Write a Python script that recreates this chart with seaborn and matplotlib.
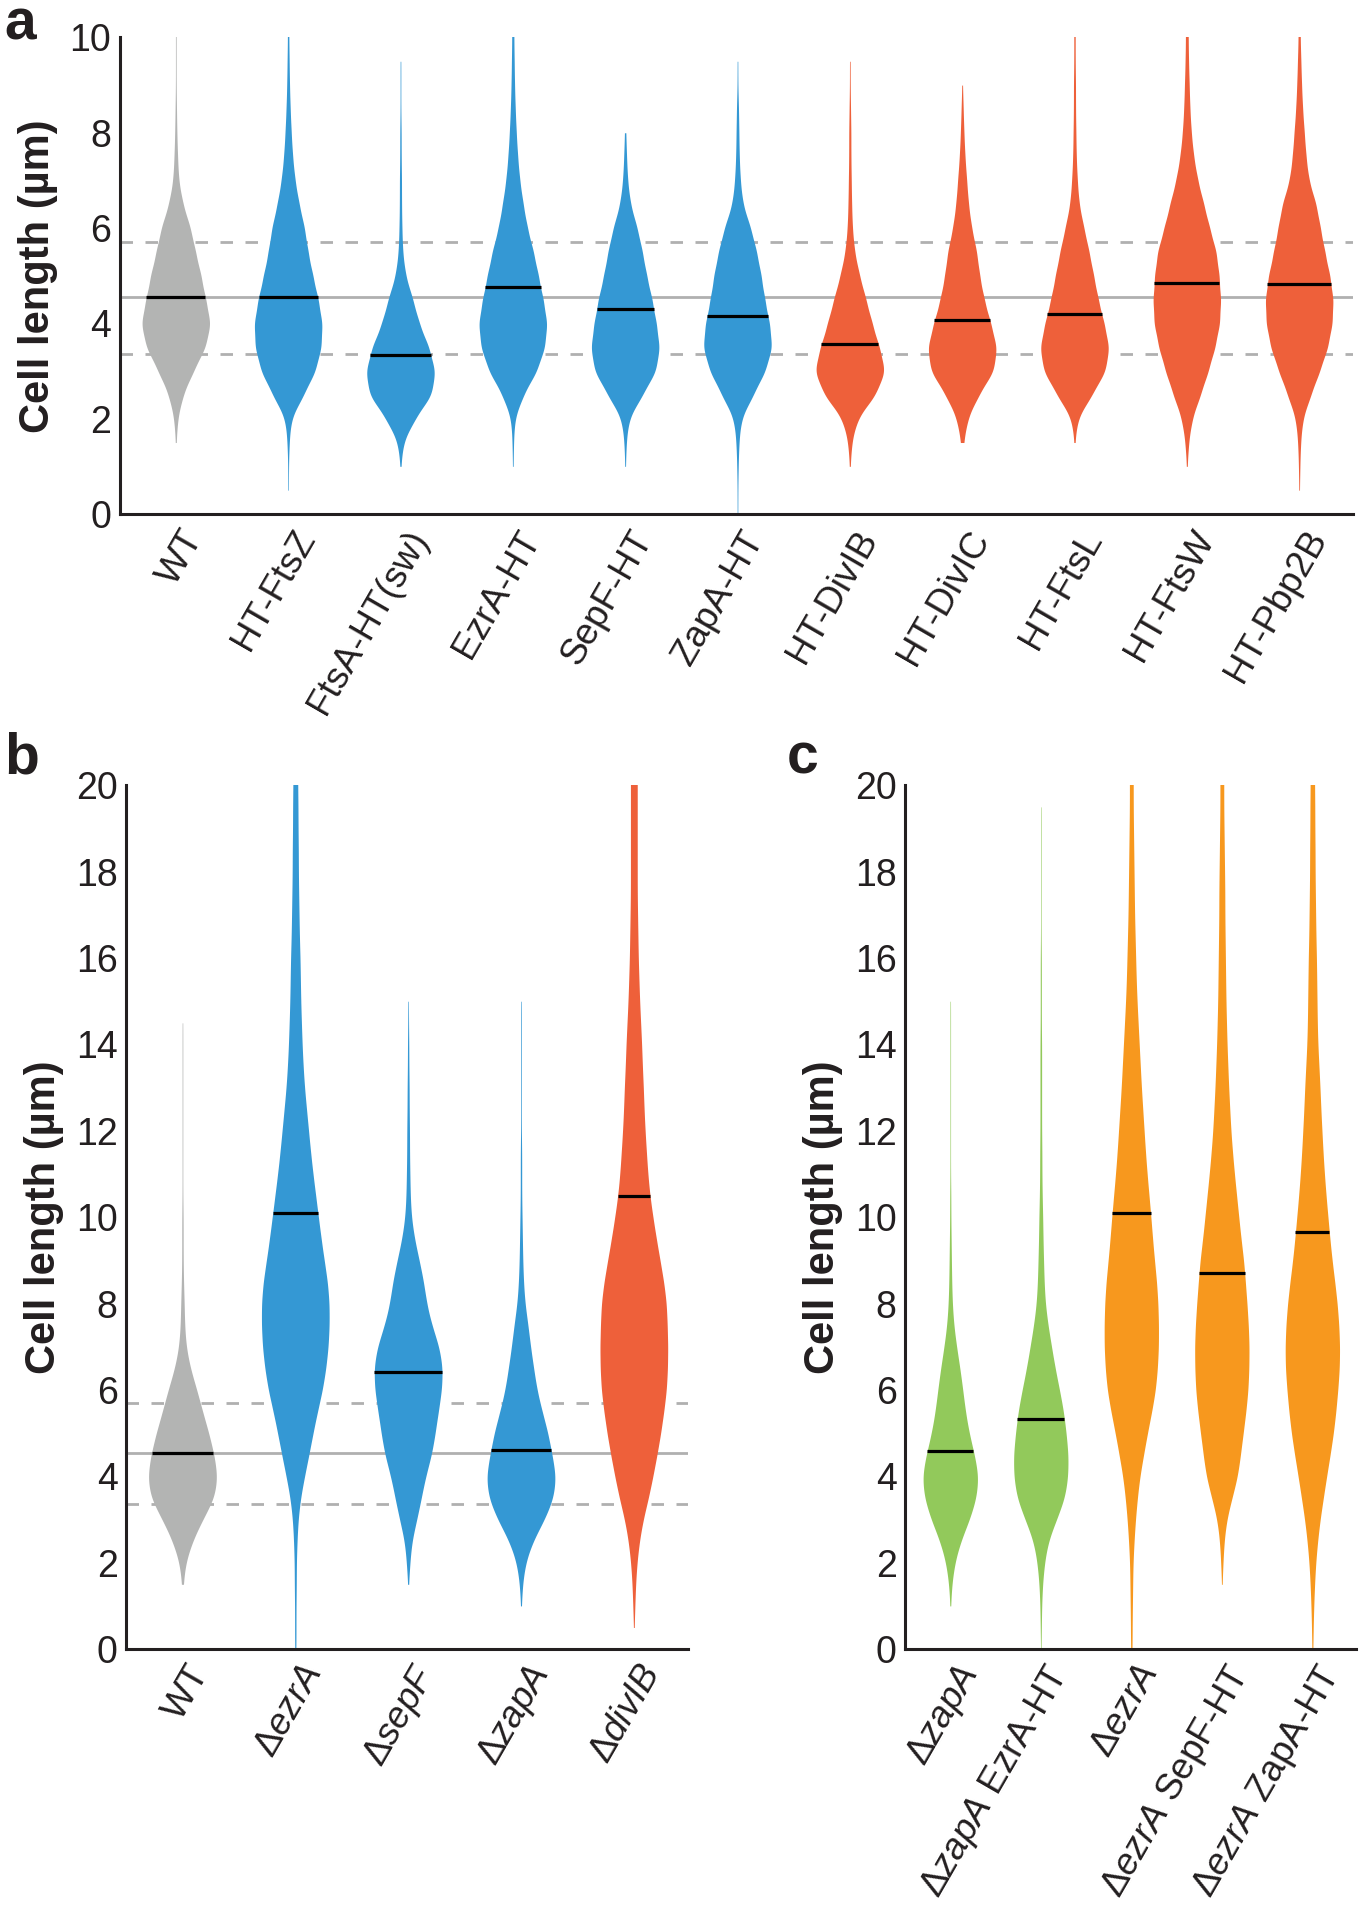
import numpy as np
import pandas as pd
import matplotlib
matplotlib.use("Agg")
import matplotlib.pyplot as plt
import matplotlib.transforms as mtransforms
import seaborn as sns

sns.set_style("white")
plt.rcParams["font.family"] = ["Liberation Sans", "DejaVu Sans"]
plt.rcParams["mathtext.fontset"] = "custom"
plt.rcParams["mathtext.rm"] = "Liberation Sans"
plt.rcParams["mathtext.it"] = "Liberation Sans:italic"

GRAY, BLUE, RED = "#b3b4b3", "#3498d4", "#ee603a"
GREEN, ORANGE = "#92c95b", "#f7981e"
REF = "#b0b0b0"
INK = "#231f20"

# histogram-style reading of each violin: counts per 0.5 µm bin
bins_a = [0, 0.5, 1, 1.5, 2, 2.5, 3, 3.5, 4, 4.5, 5, 5.5, 6, 6.5, 7, 7.5,
          8, 8.5, 9, 9.5, 10, 10.5, 11]
bins_bc = [0, 0.5, 1, 1.5, 2, 2.5, 3, 3.5, 4, 4.5, 5, 5.5, 6, 6.5, 7, 7.5,
           8, 8.5, 9, 9.5, 10, 10.5, 11, 11.5, 12, 12.5, 13, 13.5, 14, 14.5,
           15, 15.5, 16, 16.5, 17, 17.5, 18, 18.5, 19, 19.5, 20, 20.5, 21]

labels_a = ["WT", "HT-FtsZ", "FtsA-HT(sw)", "EzrA-HT", "SepF-HT", "ZapA-HT",
            "HT-DivIB", "HT-DivIC", "HT-FtsL", "HT-FtsW", "HT-Pbp2B"]
colors_a = [GRAY] + [BLUE] * 5 + [RED] * 5
counts_a = [
    [0, 0, 0, 1, 5, 20, 50, 85, 100, 85, 72, 56, 42, 20, 8, 5, 3, 2, 1, 1, 1, 1, 1],
    [0, 1, 1, 3, 8, 45, 80, 97, 100, 88, 72, 58, 48, 32, 20, 13, 9, 6, 4, 3, 2, 2, 2],
    [0, 0, 1, 7, 40, 89, 98, 80, 52, 35, 14, 6, 4, 3, 3, 2, 2, 1, 1, 1, 0, 0, 0],
    [0, 0, 1, 2, 5, 30, 70, 93, 100, 88, 74, 60, 42, 30, 20, 14, 10, 7, 5, 4, 3, 3, 3],
    [0, 0, 1, 3, 10, 50, 90, 100, 90, 78, 62, 50, 35, 15, 7, 4, 2, 0, 0, 0, 0, 0, 0],
    [1, 1, 2, 4, 10, 45, 80, 100, 92, 78, 68, 55, 38, 15, 8, 5, 4, 3, 1, 1, 0, 0, 0],
    [0, 0, 1, 5, 20, 72, 100, 82, 62, 45, 27, 13, 7, 5, 4, 3, 3, 2, 1, 1, 0, 0, 0],
    [0, 0, 0, 4, 15, 47, 92, 100, 82, 63, 50, 42, 27, 18, 13, 8, 5, 3, 1, 0, 0, 0, 0],
    [0, 0, 0, 1, 8, 50, 90, 100, 85, 68, 55, 42, 27, 13, 8, 5, 4, 3, 3, 2, 2, 2, 2],
    [0, 0, 1, 5, 15, 40, 63, 83, 97, 100, 95, 87, 67, 50, 32, 20, 13, 9, 7, 5, 4, 4, 4],
    [0, 1, 2, 4, 10, 34, 60, 84, 97, 100, 90, 75, 62, 50, 28, 20, 15, 10, 7, 5, 3, 3, 3],
]
medians_a = [4.55, 4.55, 3.34, 4.76, 4.31, 4.15, 3.57, 4.07, 4.19, 4.85, 4.82]

labels_b = ["WT", "$\\mathit{ΔezrA}$", "$\\mathit{ΔsepF}$", "$\\mathit{ΔzapA}$",
            "$\\mathit{ΔdivIB}$"]
colors_b = [GRAY, BLUE, BLUE, BLUE, RED]
counts_b = [
    [0, 0, 0, 2, 8, 28, 57, 92, 100, 90, 75, 57, 41, 22, 10, 6, 5, 3, 2, 2, 2,
     1, 1, 1, 1, 1, 1, 1, 1, 1, 0, 0, 0, 0, 0, 0, 0, 0, 0, 0, 0, 0, 0],
    [2, 2, 2, 3, 3, 5, 8, 15, 27, 40, 52, 65, 80, 90, 97, 100, 100, 95, 85, 76,
     68, 60, 52, 45, 39, 33, 27, 23, 20, 18, 16, 15, 14, 12, 11, 10, 9, 9, 8, 8, 7, 7, 7],
    [0, 0, 0, 1, 5, 10, 25, 38, 50, 68, 78, 87, 97, 100, 90, 68, 53, 45, 32, 18,
     9, 6, 5, 4, 4, 3, 3, 2, 2, 1, 1, 0, 0, 0, 0, 0, 0, 0, 0, 0, 0, 0, 0],
    [0, 0, 1, 4, 12, 33, 67, 93, 100, 88, 77, 60, 45, 36, 27, 20, 11, 7, 5, 4,
     3, 2, 2, 2, 1, 1, 1, 1, 1, 1, 1, 0, 0, 0, 0, 0, 0, 0, 0, 0, 0, 0, 0],
    [0, 1, 3, 5, 9, 16, 27, 43, 56, 68, 79, 88, 96, 99, 100, 98, 96, 88, 77, 66,
     56, 47, 41, 37, 33, 30, 28, 25, 23, 20, 17, 15, 13, 12, 11, 10, 10, 10, 10, 10, 10, 10, 10],
]
medians_b = [4.55, 10.1, 6.42, 4.62, 10.49]

labels_c = ["$\\mathit{ΔzapA}$", "$\\mathit{ΔzapA}$ EzrA-HT", "$\\mathit{ΔezrA}$",
            "$\\mathit{ΔezrA}$ SepF-HT", "$\\mathit{ΔezrA}$ ZapA-HT"]
colors_c = [GREEN, GREEN, ORANGE, ORANGE, ORANGE]
counts_c = [
    [0, 0, 1, 5, 15, 36, 68, 92, 100, 85, 66, 53, 44, 34, 22, 12, 7, 5, 4, 3,
     2, 2, 1, 1, 1, 1, 1, 1, 1, 1, 1, 0, 0, 0, 0, 0, 0, 0, 0, 0, 0, 0, 0],
    [1, 2, 3, 6, 13, 26, 57, 88, 99, 100, 92, 83, 68, 52, 39, 26, 16, 12, 10, 8,
     7, 5, 4, 4, 3, 3, 3, 3, 3, 2, 2, 2, 2, 1, 1, 1, 1, 1, 1, 1, 0, 0, 0],
    [3, 3, 4, 5, 6, 10, 15, 22, 31, 45, 59, 75, 89, 96, 100, 100, 98, 93, 85, 78,
     72, 65, 58, 52, 47, 42, 37, 33, 29, 25, 21, 18, 16, 14, 12, 11, 10, 9, 8, 7, 7, 7, 7],
    [0, 0, 0, 1, 4, 8, 17, 37, 58, 68, 78, 88, 96, 99, 100, 97, 92, 86, 80, 70,
     62, 54, 46, 39, 33, 29, 25, 22, 19, 17, 15, 14, 13, 12, 11, 11, 10, 9, 8, 7, 7, 7, 7],
    [2, 3, 5, 8, 12, 19, 28, 40, 52, 65, 77, 86, 93, 99, 100, 97, 91, 82, 72, 64,
     57, 50, 44, 39, 35, 31, 28, 24, 20, 18, 17, 16, 15, 13, 12, 11, 10, 10, 9, 9, 8, 8, 8],
]
medians_c = [4.58, 5.33, 10.1, 8.7, 9.65]

wt_ref = [3.36, 4.55, 5.7]  # WT lower/median/upper guide lines


def to_frame(labels, counts, bins):
    parts = []
    for lab, cnt in zip(labels, counts):
        parts.append(pd.DataFrame({"strain": lab, "length": np.repeat(bins, cnt)}))
    return pd.concat(parts, ignore_index=True)


def panel(ax, labels, counts, bins, colors, medians, ymax, bw, ref=None):
    df = to_frame(labels, counts, bins)
    sns.violinplot(data=df, x="strain", y="length", hue="strain", order=labels,
                   hue_order=labels, palette=colors, legend=False, inner=None,
                   linewidth=0, cut=0, density_norm="width", width=0.6,
                   saturation=1, gridsize=400,
                   bw_method=lambda k: bw / k.dataset.std(), ax=ax)
    # median bars spanning the violin width
    for coll in ax.collections:
        verts = coll.get_paths()[0].vertices
        cx = (verts[:, 0].min() + verts[:, 0].max()) / 2
        i = int(round(cx))
        right = verts[verts[:, 0] >= cx]
        order = np.argsort(right[:, 1])
        hw = np.interp(medians[i], right[order, 1], right[order, 0] - cx)
        ax.hlines(medians[i], i - hw, i + hw, color="black", lw=2.3, zorder=4)
    if ref is not None:
        ax.axhline(ref[1], color=REF, lw=2, zorder=0.5)
        for v in (ref[0], ref[2]):
            ax.axhline(v, color=REF, lw=2, ls=(0, (4.5, 4.5)), zorder=0.5)
    ax.set_ylim(0, ymax)
    ax.set_xlim(-0.5, len(labels) - 0.52)
    ax.set_xlabel("")
    ax.set_ylabel("Cell length (µm)", fontsize=30, fontweight="bold", color=INK)
    sns.despine(ax=ax)
    for s in ("left", "bottom"):
        ax.spines[s].set_linewidth(2.2)
        ax.spines[s].set_color(INK)
    ax.tick_params(axis="both", length=0, colors=INK)
    ax.tick_params(axis="y", labelsize=27, pad=6)
    ax.tick_params(axis="x", labelsize=26.5, pad=3)
    ax.set_xticks(range(len(labels)))
    ax.set_xticklabels(labels, rotation=60, ha="right", va="top",
                       rotation_mode="anchor")
    shift = mtransforms.ScaledTranslation(0.04, -0.06, ax.figure.dpi_scale_trans)
    for t in ax.get_xticklabels():
        t.set_transform(t.get_transform() + shift)


fig = plt.figure(figsize=(13.64, 19.2), dpi=100)
ax_a = fig.add_axes([0.0877, 0.7323, 0.9043, 0.2482])
ax_b = fig.add_axes([0.0924, 0.1411, 0.4120, 0.4499])
ax_c = fig.add_axes([0.6635, 0.1411, 0.3305, 0.4499])

panel(ax_a, labels_a, counts_a, bins_a, colors_a, medians_a, 10, 0.28, ref=wt_ref)
ax_a.set_yticks([0, 2, 4, 6, 8, 10])
ax_a.yaxis.set_label_coords(-0.05, 0.5)

panel(ax_b, labels_b, counts_b, bins_bc, colors_b, medians_b, 20, 0.33, ref=wt_ref)
ax_b.set_yticks(range(0, 21, 2))
ax_b.yaxis.set_label_coords(-0.11, 0.5)

panel(ax_c, labels_c, counts_c, bins_bc, colors_c, medians_c, 20, 0.33)
ax_c.set_yticks(range(0, 21, 2))
ax_c.yaxis.set_label_coords(-0.137, 0.5)

for x, y, s in [(0.003, 0.9795, "a"), (0.003, 0.597, "b"), (0.577, 0.597, "c")]:
    fig.text(x, y, s, fontsize=41, fontweight="bold", color=INK, va="baseline")

fig.savefig("out.png", dpi=100)
